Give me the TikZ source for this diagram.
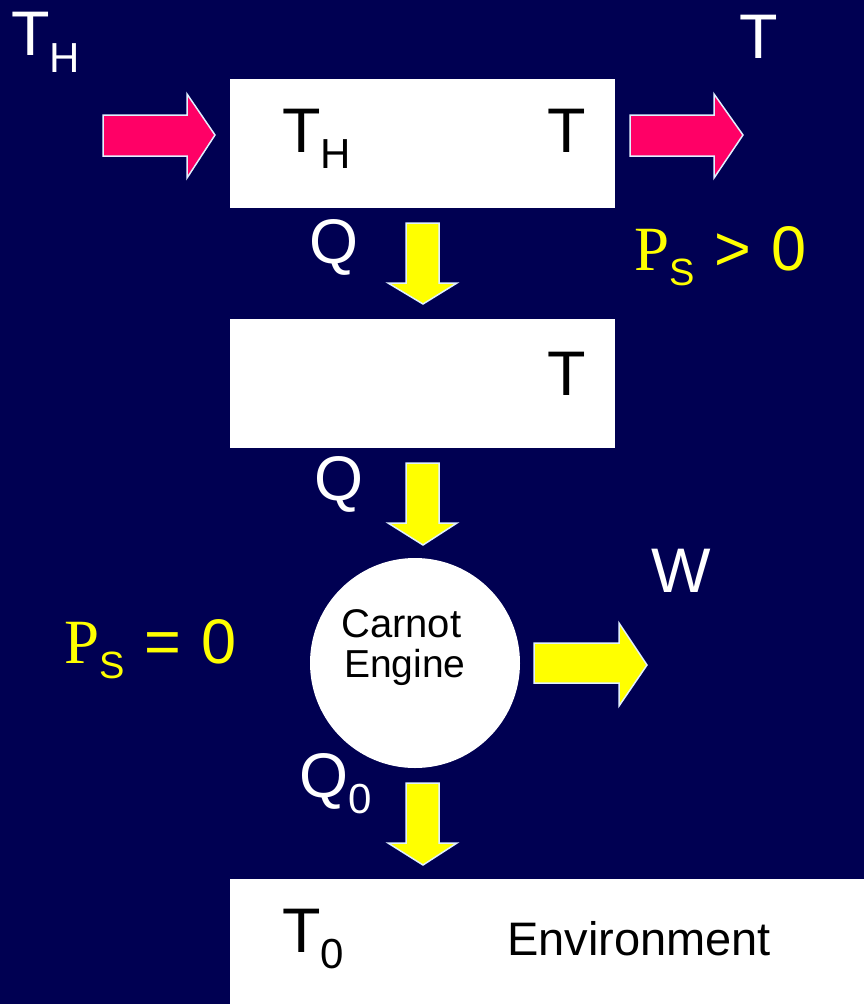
\documentclass[tikz,border=0pt]{standalone}
\usepackage{fontspec}
\setmainfont{Liberation Sans}
\newfontfamily\serifP{Liberation Serif}
\definecolor{navy}{RGB}{0,0,82}
\definecolor{pinkarr}{RGB}{255,0,102}
\definecolor{yelarr}{RGB}{255,255,0}
\definecolor{rim}{RGB}{225,240,255}
\newcommand\lsub[2][-16pt]{\raisebox{#1}{\fontsize{42}{42}\selectfont #2}}
\newcommand\psub{{\serifP P}\raisebox{-15pt}{\fontsize{38}{38}\selectfont S}}
\begin{document}
\begin{tikzpicture}[x=1pt,y=-1pt,
  lbl/.style={anchor=base west,inner sep=0pt,outer sep=0pt,font=\fontsize{63}{63}\selectfont},
  dark/.style={lbl,text=black},
  light/.style={lbl,text=white},
  yel/.style={lbl,text=yelarr},
  small/.style={anchor=base west,inner sep=0pt,text=black},
  wbox/.style={fill=white,draw=none},
  parrow/.style={fill=pinkarr,draw=rim,line width=1.5pt,line join=miter},
  yarrow/.style={fill=yelarr,draw=rim,line width=1.5pt,line join=miter}]
\fill[navy] (0,0) rectangle (864,1004);
\useasboundingbox (0,0) rectangle (864,1004);
% boxes
\fill[wbox] (230,79) rectangle (615,208);
\fill[wbox] (230,319) rectangle (615,448);
\fill[wbox] (230,879) rectangle (864,1004);
\node[circle,fill=white,minimum size=210pt,inner sep=0pt] (eng) at (415,663) {};
% pink arrows
\draw[parrow] (103,115) -- (187,115) -- (187,94) -- (215,135) -- (187,178) -- (187,156) -- (103,156) -- cycle;
\draw[parrow] (630,115) -- (714,115) -- (714,94) -- (743,135) -- (714,178) -- (714,156) -- (630,156) -- cycle;
% yellow down arrows
\draw[yarrow] (406,223) -- (439,223) -- (439,283) -- (457,283) -- (423,304) -- (388,283) -- (406,283) -- cycle;
\draw[yarrow] (406,463) -- (439,463) -- (439,523) -- (457,523) -- (423,545) -- (388,523) -- (406,523) -- cycle;
\draw[yarrow] (406,783) -- (439,783) -- (439,843) -- (457,843) -- (423,865) -- (388,843) -- (406,843) -- cycle;
% W arrow
\draw[yarrow] (534,643) -- (619,643) -- (619,623) -- (647,665) -- (619,706) -- (619,683) -- (534,683) -- cycle;
% labels
\node[light] (th) at (11,55) {T\lsub[-17pt]{H}};
\node[light] (tr) at (739,58) {T};
\node[dark] (bth) at (282,152) {T\lsub{H}};
\node[dark] (bt1) at (547,152) {T};
\node[light] (q1) at (309.5,263) {Q};
\node[yel] (psg) at (634,270) {\psub\hspace{20pt}>\hspace{20pt}0};
\node[dark] (bt2) at (547,395) {T};
\node[light] (q2) at (314.5,500) {Q};
\node[light] (w) at (651,592) {W};
\node[yel] (pse) at (64,663) {\psub\hspace{20pt}=\hspace{20pt}0};
\node[small,font=\fontsize{40}{40}\selectfont] (c1) at (341,637) {Carnot};
\node[small,font=\fontsize{39}{39}\selectfont] (c2) at (344,677) {Engine};
\node[light] (q0) at (299.5,797) {Q\lsub{0}};
\node[dark] (t0) at (282,952) {T\lsub{0}};
\node[small,font=\fontsize{47}{47}\selectfont] (env) at (507,955) {Environment};
\end{tikzpicture}
\end{document}
